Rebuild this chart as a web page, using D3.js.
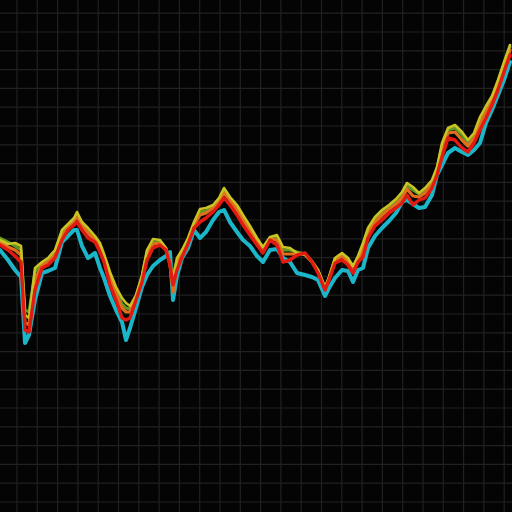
<!DOCTYPE html>
<html><head><meta charset="utf-8">
<script src="https://cdn.jsdelivr.net/npm/d3@7"></script>
<style>html,body{margin:0;padding:0;background:#040404;}svg{display:block;}</style>
</head><body>
<script>
const days = [0,4,7.5,10.5,12.5,14.5,17.5,21,24,27.5,31,34,37,38.5,41,44,47.5,50,52,55,58,61,63,65,68,71,73.5,76.5,80,83,85,86.5,88.5,91,94,97,100,103,106.5,109.5,112,115,118.5,121.5,125,128.5,131.5,135,138.5,141.5,145,148.5,152.5,156,159,162.5,164.5,167.5,171,174,176.5,179,181.5,184,187.5,191,194.5,198,201,203.5,206.5,209.5,212.5,216,218.5,221,224,227.5,231,234,237,240,243,246,249,252,255];

const seriesYellow = [68,67,67.25,66.5,49.25,48.5,61,62.5,63.5,65.5,70.5,72,73.5,75,72.5,71,69,67.25,64.5,60,56.25,53.5,52.25,51.5,54.25,59.25,65.5,68.25,68,66,61.75,58,63.5,65.5,68.5,72.5,75.75,76,76.75,78.5,81,78.75,76.75,74.25,71.5,68.5,66.25,68.75,69.25,66.25,66,64.75,64.25,62.5,60.5,56.25,58.75,63.5,64.75,63.5,61.5,64,67.25,71,73.75,75.5,76.75,78.25,80,82.25,81.25,79.75,81,83,86.25,92.25,96,96.75,95,93,94.75,98.75,101.5,104,108,112.5,116.75];

const seriesCyan = [65.5,63,60.5,58.75,42.25,44.25,53,59.75,60.25,61,67.5,69,70.5,70.5,66.5,63.5,64.75,61,58.5,54,50.5,47.5,43,46,51,56.25,59.25,61.5,63,64,65,53,59,63.5,66,70.5,68.5,70,73,75,75.5,72.5,70,68,66.5,64,62.5,65.5,65.75,63.5,62.5,59.75,59.25,58.75,58,54,56,58.5,60.5,60.25,57.5,60.5,61,66,69,71,72.75,74.75,77.5,78,77,76,76.25,79.25,84.25,86.75,89.75,91,90,89.25,90.5,92.25,97.25,100.5,104.25,108,112.5];

const seriesRed = [66.75,65.5,64,62.5,45.5,45,55.5,61,61.75,63.5,68,70.5,71.75,72.5,70.5,68.5,67.5,65,62.5,56.75,53,48.5,48,48.5,53,57.5,63,66,66.75,65.5,61.75,56.75,60.5,63.75,67,71,72.5,73.5,75,76.75,78.5,76.75,74.25,71.75,69.25,66.75,64.75,68,66.75,62.5,63,64.25,64.75,62.5,59.75,55.5,58,62.25,63,61.75,59.75,62.5,63.75,68.5,71.5,73,74.75,76,77.25,79.25,76.75,78,78.5,81,84.25,88.75,93.5,93,91,90,92.25,95.5,98.5,101.75,105.5,110,114.25];

const seriesOrange = [67.5,66.25,65.5,64.25,47.5,46.75,58,61.75,62.5,64.25,69,71,72.75,74,71.5,69.75,68,66,63.5,58.5,54.5,51,50,50,53.5,58.5,64.25,67,67.25,65.75,62,55,62,64.75,67.75,71.75,74.25,74.75,76,77.75,79.75,78,75.5,73,70.5,67.75,65.5,68.25,68,64.5,64.5,64.5,64.5,62.5,60.25,55.75,58.25,63,64,62.5,60.5,63.25,65.5,69.75,72.5,74.25,75.75,77,78.5,80.75,79,78.75,79.75,82,85.25,90.5,94.75,95,93,91.5,93.5,97,100,103,106.75,111.25,115.5];

const seriesGreen = [68.5,67.5,66.5,65.5,50.5,50,60,62.25,63,65,69.75,71.5,73,74.25,72,70.25,68.5,66.5,64,59.25,55.25,52,51,50.75,53.75,58.75,65,67.5,67.5,65.5,62.25,59.25,63,65.25,68,72,75,75.25,76.25,78,80.25,78.25,76,73.5,71,68,65.75,68.5,68.75,65.5,65.5,65,64.5,62.75,60.5,56,58.5,63.25,64.5,63,61,63.5,66.5,70.5,73.25,75,76.25,77.75,79.25,81.5,80.5,79.5,80.5,82.5,85.75,91.5,95.5,96,94.25,92.5,94.25,98,100.75,103.5,107.5,112,116.25];

const W = 512, H = 512;
const svg = d3.select("body").append("svg").attr("width", W).attr("height", H);
svg.append("rect").attr("width", W).attr("height", H).attr("fill", "#040404");

// grid
const gx = d3.scaleLinear().domain([0, 25]).range([17, 524.5]);
const gy = d3.scaleLinear().domain([0, 26]).range([13.2, 502]);
const grid = svg.append("g").attr("stroke", "#212121").attr("stroke-width", 1.2);
grid.selectAll("line.v").data(d3.range(26)).join("line").attr("class", "v")
  .attr("x1", d => gx(d)).attr("x2", d => gx(d)).attr("y1", 0).attr("y2", H);
grid.selectAll("line.h").data(d3.range(27)).join("line").attr("class", "h")
  .attr("y1", d => gy(d)).attr("y2", d => gy(d)).attr("x1", 0).attr("x2", W);

const x = d3.scaleLinear().domain([0, 256]).range([0, W]);
const y = d3.scaleLinear().domain([0, 128]).range([H, 0]);
const line = d3.line().x((d, i) => x(days[i])).y(d => y(d)).curve(d3.curveLinear);

const series = [
  {name: "cyan", vals: seriesCyan, color: "#1bb6c9", w: 4},
  {name: "green", vals: seriesGreen, color: "#5f9a26", w: 3},
  {name: "orange", vals: seriesOrange, color: "#e0701c", w: 3.2},
  {name: "yellow", vals: seriesYellow, color: "#c9c424", w: 2.6},
  {name: "red", vals: seriesRed, color: "#e21b12", w: 3.4}
];

svg.append("g").selectAll("path").data(series).join("path")
  .attr("d", s => line(s.vals))
  .attr("fill", "none")
  .attr("stroke", s => s.color)
  .attr("stroke-width", s => s.w)
  .attr("stroke-linejoin", "round")
  .attr("stroke-linecap", "round");
</script>
</body></html>
